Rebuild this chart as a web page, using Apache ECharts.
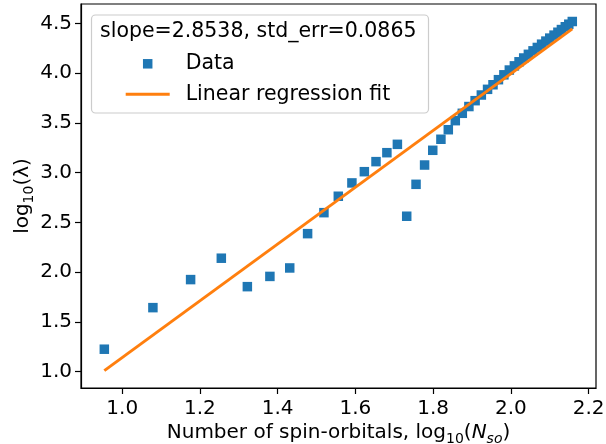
<!DOCTYPE html>
<html>
<head>
<meta charset="utf-8">
<script src="https://cdn.jsdelivr.net/npm/echarts@6/dist/echarts.min.js"></script>
<style>
html,body{margin:0;padding:0;background:#fff;}
#chart{width:606px;height:444px;}
</style>
</head>
<body>
<div id="chart"></div>
<script>
// log10 of number of spin-orbitals
var nsoLog = [0.954, 1.079, 1.176, 1.255, 1.322, 1.380, 1.431, 1.477, 1.519, 1.556,
              1.591, 1.623, 1.653, 1.681, 1.708, 1.732, 1.756, 1.778, 1.799, 1.820,
              1.839, 1.857, 1.875, 1.892, 1.908, 1.924, 1.940, 1.954, 1.968, 1.982,
              1.996, 2.009, 2.021, 2.033, 2.045, 2.057, 2.068, 2.079, 2.090, 2.100,
              2.111, 2.121, 2.130, 2.140, 2.149, 2.158];
// log10 of lambda
var lambdaLog = [1.225, 1.643, 1.925, 2.140, 1.854, 1.957, 2.042, 2.387, 2.598, 2.763,
                 2.897, 3.010, 3.111, 3.201, 3.285, 2.562, 2.883, 3.077, 3.225, 3.336,
                 3.432, 3.523, 3.597, 3.665, 3.724, 3.781, 3.838, 3.884, 3.935, 3.984,
                 4.032, 4.074, 4.115, 4.153, 4.190, 4.225, 4.259, 4.292, 4.323, 4.353,
                 4.383, 4.412, 4.439, 4.467, 4.493, 4.520];
// regression fit line end points
var fitX = [0.954, 2.158];
var fitY = [1.010, 4.446];
var xTicks = [1.0, 1.2, 1.4, 1.6, 1.8, 2.0, 2.2];
var yTicks = [1.0, 1.5, 2.0, 2.5, 3.0, 3.5, 4.0, 4.5];
var fitTitle = 'slope=2.8538, std_err=0.0865';
var seriesNames = ['Data', 'Linear regression fit'];

var FONT = 'DejaVu Sans';
var dataPts = nsoLog.map(function (x, i) { return [x, lambdaLog[i]]; });
var fitPts = fitX.map(function (x, i) { return [x, fitY[i]]; });

var chart = echarts.init(document.getElementById('chart'), null, {renderer: 'canvas'});
var richName = {
  n: {fontSize: 20, fontFamily: FONT, color: '#000'},
  sub: {fontSize: 14, lineHeight: 14, fontFamily: FONT, color: '#000', padding: [12, 0, 0, 0]},
  it: {fontSize: 20, fontFamily: FONT, color: '#000', fontStyle: 'italic'},
  itsub: {fontSize: 14, lineHeight: 14, fontFamily: FONT, color: '#000', fontStyle: 'italic', padding: [12, 0, 0, 0]}
};
chart.setOption({
  animation: false,
  title: {
    text: fitTitle, left: 100, top: 22, padding: 0,
    textStyle: {fontSize: 20.5, fontWeight: 'normal', color: '#000', fontFamily: FONT, lineHeight: 20}
  },
  graphic: [{
    type: 'rect', z: 0,
    shape: {x: 91.5, y: 15, width: 337, height: 98, r: 4},
    style: {fill: 'rgba(255,255,255,0.8)', stroke: '#cccccc', lineWidth: 1.2}
  }],
  legend: {
    orient: 'vertical', left: 125.7, top: 53.3, padding: 0,
    itemWidth: 44, itemHeight: 9.5, itemGap: 9.4, symbolKeepAspect: true,
    data: [
      {name: seriesNames[0], icon: 'path://M0,0H10V10H0Z'},
      {name: seriesNames[1], icon: 'path://M0,0H44V3H0Z'}
    ],
    formatter: function (n) { return '{p|}' + n; },
    textStyle: {fontSize: 20.5, fontFamily: FONT, color: '#000', lineHeight: 20,
      rich: {p: {width: 11}}}
  },
  grid: {left: 81, right: 10, top: 4, bottom: 56, show: true, borderColor: '#000', borderWidth: 1.2,
    containLabel: false, outerBoundsMode: 'none'},
  xAxis: {
    type: 'value', min: 0.894, max: 2.219,
    name: 'Number of spin-orbitals, log{sub|10}({it|N}{itsub|so})',
    nameLocation: 'middle', nameGap: 35, nameMoveOverlap: false,
    nameTextStyle: {fontSize: 20, fontFamily: FONT, color: '#000', rich: richName},
    axisLine: {lineStyle: {color: '#000', width: 1.2}},
    axisTick: {customValues: xTicks, length: 6, lineStyle: {color: '#000', width: 1.2}},
    axisLabel: {customValues: xTicks, margin: 11, fontSize: 20, fontFamily: FONT, color: '#000',
      formatter: function (v) { return v.toFixed(1); }},
    splitLine: {show: false}
  },
  yAxis: {
    type: 'value', min: 0.835, max: 4.696,
    name: 'log{sub|10}(λ)',
    nameLocation: 'middle', nameGap: 48, nameMoveOverlap: false,
    nameTextStyle: {fontSize: 20, fontFamily: FONT, color: '#000', rich: richName},
    axisLine: {lineStyle: {color: '#000', width: 1.2}},
    axisTick: {customValues: yTicks, length: 6, lineStyle: {color: '#000', width: 1.2}},
    axisLabel: {customValues: yTicks, margin: 9, fontSize: 20, fontFamily: FONT, color: '#000',
      formatter: function (v) { return v.toFixed(1); }},
    splitLine: {show: false}
  },
  series: [
    {
      name: seriesNames[0], type: 'scatter', data: dataPts,
      symbol: 'rect', symbolSize: 9.5, z: 2,
      itemStyle: {color: '#1f77b4', opacity: 1}
    },
    {
      name: seriesNames[1], type: 'line', data: fitPts, z: 3,
      symbol: 'none', showSymbol: false,
      lineStyle: {color: '#ff7f0e', width: 3},
      itemStyle: {color: '#ff7f0e'}
    }
  ]
});
</script>
</body>
</html>
